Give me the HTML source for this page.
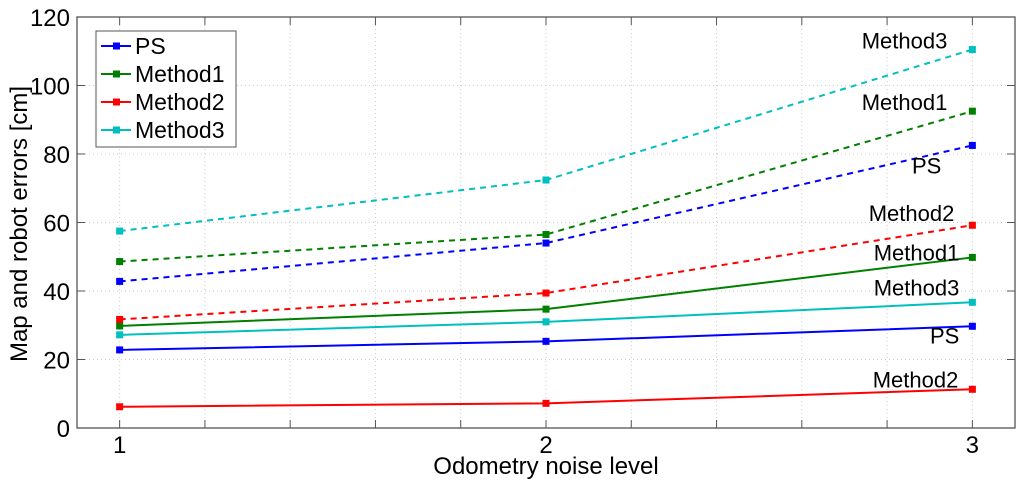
<!DOCTYPE html>
<html><head><meta charset="utf-8"><style>
body{margin:0;background:#fff;}
svg text{font-family:"Liberation Sans",Arial,sans-serif;}
</style></head><body>
<svg id="chart" width="1024" height="488" xmlns="http://www.w3.org/2000/svg"></svg>
<script>
const xCats=[1,2,3];
const ps=[22.8,25.3,29.7];
const m1=[29.8,34.7,49.8];
const m2=[6.2,7.2,11.3];
const m3=[27.2,31.0,36.7];
const psD=[42.8,54.0,82.5];
const m1D=[48.6,56.5,92.5];
const m2D=[31.7,39.4,59.2];
const m3D=[57.5,72.4,110.5];
const yTicks=[0,20,40,60,80,100,120];
const xTicks=[1,1.2,1.4,1.6,1.8,2,2.2,2.4,2.6,2.8,3];
const xTickLabels=["1","","","","","2","","","","","3"];
const L=77,R=1015,T=17,B=428;
const X=v=>L+(v-0.9)/(3.1-0.9)*(R-L);
const Y=v=>B-v/120*(B-T);
const svg=document.getElementById('chart');
const NS='http://www.w3.org/2000/svg';
function mk(t,a,p){const e=document.createElementNS(NS,t);for(const k in a)e.setAttribute(k,a[k]);(p||svg).appendChild(e);return e;}
yTicks.forEach(v=>{
 const g=mk('line',{x1:L,x2:R,y1:Y(v),y2:Y(v),stroke:'#ccc','stroke-dasharray':'1,3'});
 
 
 mk('line',{x1:L,x2:L+8,y1:Y(v),y2:Y(v),stroke:'#555'});
 mk('line',{x1:R,x2:R-8,y1:Y(v),y2:Y(v),stroke:'#555'});
 const t=mk('text',{x:L-7,y:Y(v)+9,'text-anchor':'end','font-size':24});t.textContent=v;
 
 
});
xTicks.forEach((v,i)=>{
 const g=mk('line',{x1:X(v),x2:X(v),y1:T,y2:B,stroke:'#ccc','stroke-dasharray':'1,3'});
 
 
 mk('line',{x1:X(v),x2:X(v),y1:B,y2:B-8,stroke:'#555'});
 mk('line',{x1:X(v),x2:X(v),y1:T,y2:T+8,stroke:'#555'});
 if(xTickLabels[i]){const t=mk('text',{x:X(v),y:B+25,'text-anchor':'middle','font-size':24});t.textContent=xTickLabels[i];
 
 }
});
const fr=mk('rect',{x:L,y:T,width:R-L,height:B-T,fill:'none',stroke:'#555','stroke-width':1.3});


const series=[
 {d:ps,c:'#0000ff',n:'ps-solid',dash:null},
 {d:m1,c:'#008000',n:'method1-solid',dash:null},
 {d:m2,c:'#ff0000',n:'method2-solid',dash:null},
 {d:m3,c:'#00bfbf',n:'method3-solid',dash:null},
 {d:psD,c:'#0000ff',n:'ps-dashed',dash:'6,5'},
 {d:m1D,c:'#008000',n:'method1-dashed',dash:'6,5'},
 {d:m2D,c:'#ff0000',n:'method2-dashed',dash:'6,5'},
 {d:m3D,c:'#00bfbf',n:'method3-dashed',dash:'6,5'}];
series.forEach(s=>{
 const a={points:s.d.map((v,i)=>X(xCats[i])+','+Y(v)).join(' '),fill:'none',stroke:s.c,'stroke-width':2};
 if(s.dash)a['stroke-dasharray']=s.dash;
 const p=mk('polyline',a);
 
 
 s.d.forEach((v,i)=>{const r=mk('rect',{x:X(xCats[i])-3.5,y:Y(v)-3.5,width:7,height:7,fill:s.c});
 
 });
});
const lbls=[['Method3',m3D,-25,-1],['Method1',m1D,-25,-1],['PS',psD,-31,28],['Method2',m2D,-18,-4],
 ['Method1',m1,-13,3],['Method3',m3,-13,-7],['PS',ps,-13,17],['Method2',m2,-14,-2]];
lbls.forEach(l=>{const t=mk('text',{x:X(3)+l[2],y:Y(l[1][2])+l[3],'text-anchor':'end','font-size':22});t.textContent=l[0];
 
 });
const xt=mk('text',{x:546,y:474,'text-anchor':'middle','font-size':24});xt.textContent='Odometry noise level';


const yt=mk('text',{x:0,y:0,'text-anchor':'middle','font-size':24,transform:'translate(27,224) rotate(-90)'});yt.textContent='Map and robot errors [cm]';


const lg=mk('g',{});


mk('rect',{x:96,y:31,width:140,height:116,fill:'#fff',stroke:'#555'},lg);
[['PS','#0000ff'],['Method1','#008000'],['Method2','#ff0000'],['Method3','#00bfbf']].forEach((e,i)=>{
 const y=46+i*28;
 const g=mk('g',{},lg);
 
 
 mk('line',{x1:101,x2:131,y1:y,y2:y,stroke:e[1],'stroke-width':2},g);
 mk('rect',{x:113,y:y-3.5,width:7,height:7,fill:e[1]},g);
 const t=mk('text',{x:135,y:y+8,'font-size':23},g);t.textContent=e[0];
});
</script>
</body></html>
